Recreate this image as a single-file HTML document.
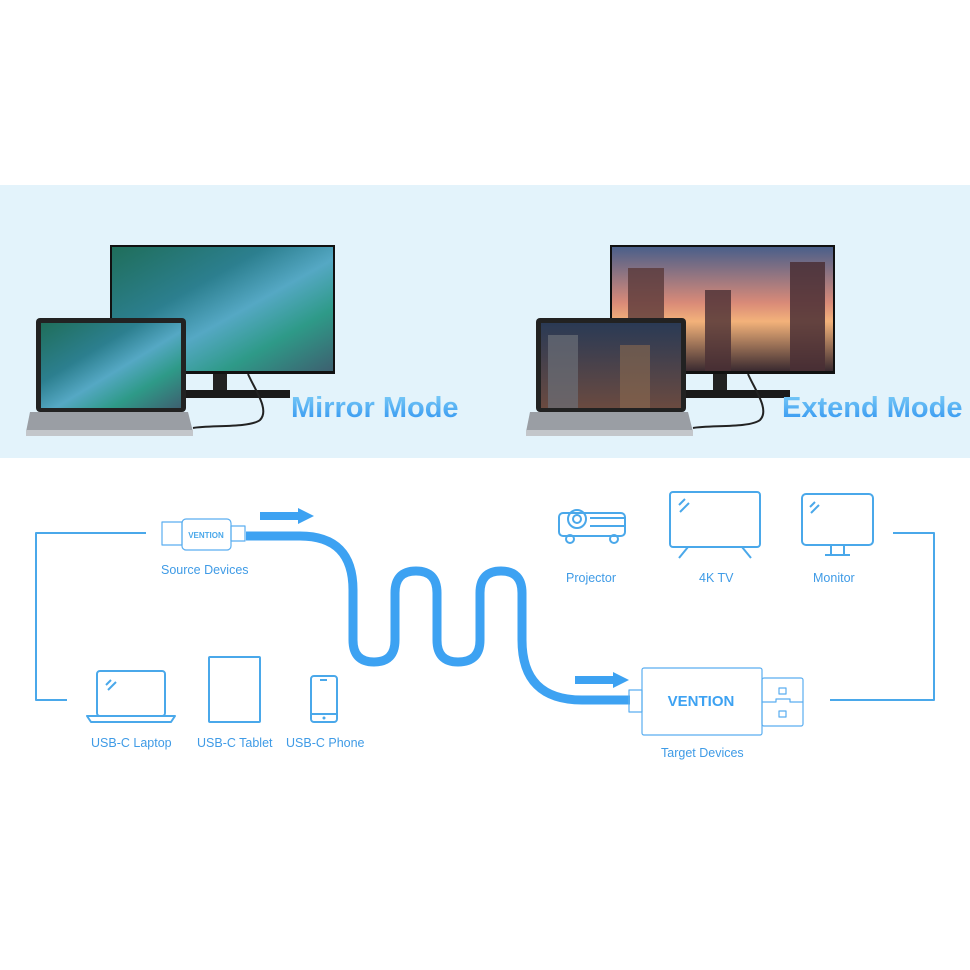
<!DOCTYPE html>
<html><head><meta charset="utf-8"><style>
body{margin:0;width:970px;height:970px;background:#fff;position:relative;overflow:hidden;font-family:"Liberation Sans",sans-serif}
.band{position:absolute;left:0;top:185px;width:970px;height:273px;background:#e3f3fb}
.abs{position:absolute}
.lbl{position:absolute;font-size:12.5px;color:#3f9be6;white-space:nowrap}
.mode{position:absolute;font-size:29px;font-weight:bold;background:linear-gradient(#7fcff7,#2a8ff0);-webkit-background-clip:text;color:transparent;letter-spacing:0}
</style></head><body>
<div class="band"></div>
<svg class="abs" style="left:0;top:0" width="970" height="970">
<defs>
<linearGradient id="sea" x1="0" y1="0" x2="1" y2="1"><stop offset="0" stop-color="#1f6e5a"/><stop offset=".35" stop-color="#2c7f8f"/><stop offset=".55" stop-color="#55a8c4"/><stop offset=".75" stop-color="#2e9a88"/><stop offset="1" stop-color="#3d6070"/></linearGradient>
<linearGradient id="city" x1="0" y1="0" x2="0" y2="1"><stop offset="0" stop-color="#4a5f8a"/><stop offset=".45" stop-color="#d98a78"/><stop offset=".6" stop-color="#f3b27a"/><stop offset="1" stop-color="#3a2a30"/></linearGradient>
<linearGradient id="city2" x1="0" y1="0" x2="0" y2="1"><stop offset="0" stop-color="#2a3a55"/><stop offset="1" stop-color="#6a4a40"/></linearGradient>
</defs>
<!-- Mirror -->
<rect x="110" y="245" width="225" height="129" fill="#111"/>
<rect x="112" y="247" width="221" height="124" fill="url(#sea)"/>
<rect x="213" y="374" width="14" height="18" fill="#222"/>
<rect x="186" y="390" width="104" height="8" fill="#1a1a1a"/>
<path d="M248 374 C255 390 270 410 260 420 C250 428 210 425 193 428" stroke="#222" stroke-width="2" fill="none"/>
<rect x="36" y="318" width="150" height="94" rx="4" fill="#222"/>
<rect x="41" y="323" width="140" height="85" fill="url(#sea)"/>
<path d="M30 412 H188 L193 432 H26 Z" fill="#9a9ea4"/>
<rect x="26" y="430" width="167" height="6" fill="#c3c6ca"/>
<!-- Extend -->
<rect x="610" y="245" width="225" height="129" fill="#111"/>
<rect x="612" y="247" width="221" height="124" fill="url(#city)"/>
<rect x="628" y="268" width="36" height="103" fill="#5a3a3a" opacity=".8"/>
<rect x="705" y="290" width="26" height="81" fill="#4a2f35" opacity=".8"/>
<rect x="790" y="262" width="35" height="109" fill="#4a2f35" opacity=".85"/>
<rect x="713" y="374" width="14" height="18" fill="#222"/>
<rect x="686" y="390" width="104" height="8" fill="#1a1a1a"/>
<path d="M748 374 C755 390 770 410 760 420 C750 428 710 425 693 428" stroke="#222" stroke-width="2" fill="none"/>
<rect x="536" y="318" width="150" height="94" rx="4" fill="#222"/>
<rect x="541" y="323" width="140" height="85" fill="url(#city2)"/>
<rect x="548" y="335" width="30" height="73" fill="#6b6f78" opacity=".7"/>
<rect x="620" y="345" width="30" height="63" fill="#8a6a50" opacity=".6"/>
<path d="M530 412 H688 L693 432 H526 Z" fill="#9a9ea4"/>
<rect x="526" y="430" width="167" height="6" fill="#c3c6ca"/>

<!-- diagram -->
<g fill="none" stroke-linejoin="round">
<path d="M146 533 H36 V700 H67" stroke="#4aa8ea" stroke-width="2"/>
<path d="M893 533 H934 V700 H830" stroke="#4aa8ea" stroke-width="2"/>
<path d="M246 536 H300 Q353 536 353 590 V640 Q353 662 374 662 Q395 662 395 640 V593 Q395 571 416 571 Q437 571 437 593 V640 Q437 662 458 662 Q480 662 480 640 V593 Q480 571 501 571 Q522 571 522 593 V640 Q522 700 582 700 H630" stroke="#3da2f2" stroke-width="9"/>
<rect x="162" y="522" width="20" height="23" stroke="#5aaef0" stroke-width="1.2"/>
<rect x="182" y="519" width="49" height="31" rx="4" stroke="#5aaef0" stroke-width="1.2"/>
<rect x="231" y="526" width="14" height="15" stroke="#5aaef0" stroke-width="1.2"/>
<rect x="629" y="690" width="13" height="22" stroke="#5aaef0" stroke-width="1.2"/>
<rect x="642" y="668" width="120" height="67" rx="2" stroke="#5aaef0" stroke-width="1.2"/>
<rect x="762" y="678" width="41" height="48" rx="2" stroke="#5aaef0" stroke-width="1.2"/>
<rect x="779" y="688" width="7" height="6" stroke="#5aaef0" stroke-width="1.2"/>
<rect x="779" y="711" width="7" height="6" stroke="#5aaef0" stroke-width="1.2"/>
<path d="M762 702 H776 V699 H790 V702 H803" stroke="#5aaef0" stroke-width="1.2"/>
<g stroke="#4aa8ea" stroke-width="2">
<rect x="97" y="671" width="68" height="45" rx="3"/>
<path d="M87 716 H175 L171 722 H91 Z"/>
<path d="M106 685 l5 -5 M108 690 l8 -8" />
<rect x="209" y="657" width="51" height="65" rx="1"/>
<rect x="311" y="676" width="26" height="46" rx="3"/>
<path d="M320 680 h7 M311 714 h26"/>
<rect x="670" y="492" width="90" height="55" rx="3"/>
<path d="M679 558 l9 -11 M751 558 l-9 -11 M679 505 l6 -6 M680 512 l9 -9"/>
<rect x="802" y="494" width="71" height="51" rx="4"/>
<path d="M831 545 v10 M844 545 v10 M825 555 h25 M810 507 l5 -5 M811 513 l8 -8"/>
<rect x="559" y="513" width="66" height="23" rx="4"/>
<circle cx="577" cy="519" r="9"/><circle cx="577" cy="519" r="4"/>
<path d="M590 518 H625 M590 526 H625"/>
<circle cx="570" cy="539" r="4"/><circle cx="614" cy="539" r="4"/>
</g>
</g>
<circle cx="324" cy="718" r="1.5" fill="#4aa8ea"/>
<path d="M260 512 H298 V508 L314 516 L298 524 V520 H260 Z" fill="#3da2f2"/>
<path d="M575 676 H613 V672 L629 680 L613 688 V684 H575 Z" fill="#3da2f2"/>
<text x="206" y="538" font-size="8" font-weight="bold" fill="#4aa8ea" text-anchor="middle" font-family="Liberation Sans">VENTION</text>
<text x="701" y="706" font-size="15" font-weight="bold" fill="#3da2f2" text-anchor="middle" font-family="Liberation Sans">VENTION</text>
</svg>
<div class="mode" style="left:291px;top:392px">Mirror Mode</div>
<div class="mode" style="left:782px;top:392px">Extend Mode</div>
<div class="lbl" style="left:161px;top:563px">Source Devices</div>
<div class="lbl" style="left:91px;top:736px">USB-C Laptop</div>
<div class="lbl" style="left:197px;top:736px">USB-C Tablet</div>
<div class="lbl" style="left:286px;top:736px">USB-C Phone</div>
<div class="lbl" style="left:566px;top:571px">Projector</div>
<div class="lbl" style="left:699px;top:571px">4K TV</div>
<div class="lbl" style="left:813px;top:571px">Monitor</div>
<div class="lbl" style="left:661px;top:746px">Target Devices</div>
</body></html>
